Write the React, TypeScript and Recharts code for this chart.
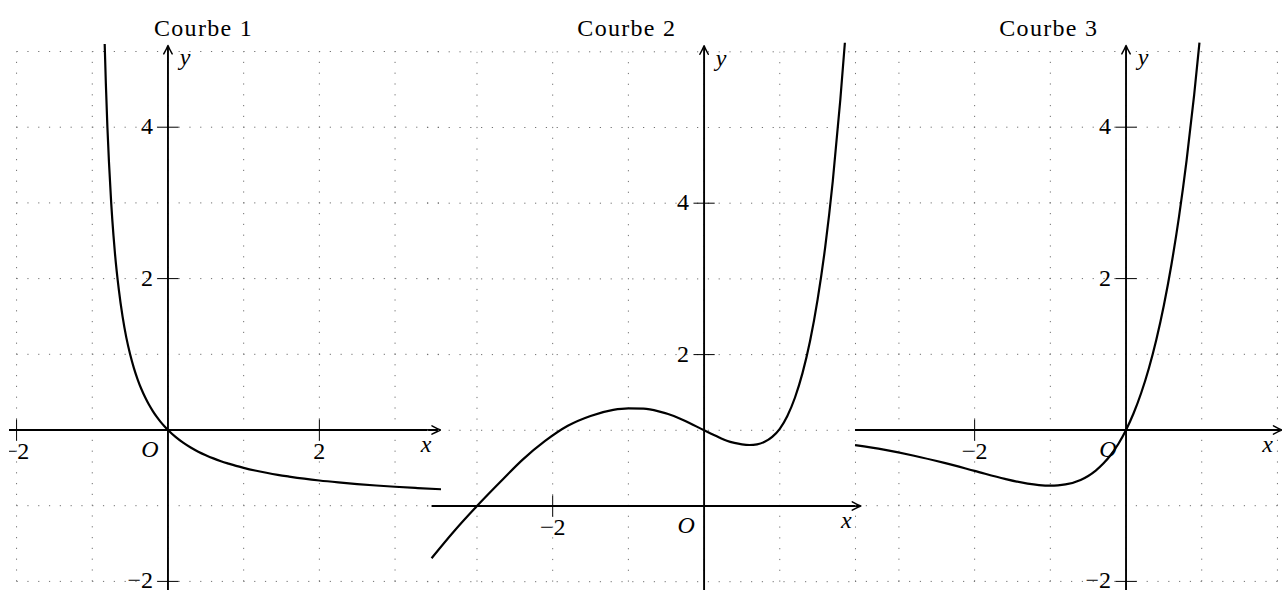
import React from "react";
import { LineChart, Line, XAxis, YAxis, ReferenceLine, ReferenceDot } from "recharts";

// Pixel size of one unit on both axes (orthonormal frame), and figure height
const UNIT = 75.7;
const HEIGHT = 590;
const FONT = '"Liberation Serif", "Times New Roman", serif';

// ---- Courbe 1 ----
const c1X = [-0.836, -0.82, -0.8, -0.78, -0.75, -0.72, -0.7, -0.65, -0.6, -0.55, -0.5, -0.45, -0.4, -0.35, -0.3, -0.25, -0.2, -0.15, -0.1, -0.05, 0, 0.1, 0.2, 0.3, 0.4, 0.5, 0.6, 0.7, 0.8, 0.9, 1.0, 1.15, 1.3, 1.45, 1.6, 1.8, 2.0, 2.25, 2.5, 2.75, 3.0, 3.3, 3.61];
const c1Y = [5.1, 4.56, 4.0, 3.55, 3.0, 2.57, 2.33, 1.86, 1.5, 1.22, 1.0, 0.818, 0.667, 0.538, 0.429, 0.333, 0.25, 0.176, 0.111, 0.053, 0, -0.091, -0.167, -0.231, -0.286, -0.333, -0.375, -0.412, -0.444, -0.474, -0.5, -0.535, -0.565, -0.592, -0.615, -0.643, -0.667, -0.692, -0.714, -0.733, -0.75, -0.767, -0.783];

// ---- Courbe 2 ----
const c2X = [-3.6, -3.3, -3.0, -2.7, -2.4, -2.1, -1.8, -1.5, -1.2, -1.0, -0.8, -0.6, -0.4, -0.2, 0, 0.1, 0.2, 0.3, 0.4, 0.5, 0.6, 0.7, 0.8, 0.9, 1.0, 1.1, 1.2, 1.3, 1.4, 1.5, 1.6, 1.7, 1.8, 1.86];
const c2Y = [-0.69, -0.33, 0.0, 0.31, 0.61, 0.86, 1.06, 1.19, 1.27, 1.29, 1.285, 1.25, 1.19, 1.1, 1.0, 0.952, 0.905, 0.862, 0.833, 0.814, 0.806, 0.814, 0.848, 0.913, 1.02, 1.19, 1.43, 1.755, 2.18, 2.73, 3.42, 4.29, 5.37, 6.12];

// ---- Courbe 3 ----
const c3X = [-3.58, -3.2, -2.8, -2.4, -2.0, -1.6, -1.3, -1.15, -1.0, -0.9, -0.8, -0.6, -0.5, -0.4, -0.3, -0.2, -0.1, 0, 0.1, 0.2, 0.3, 0.4, 0.5, 0.6, 0.7, 0.8, 0.9, 0.97];
const c3Y = [-0.2, -0.26, -0.34, -0.435, -0.54, -0.646, -0.709, -0.728, -0.736, -0.732, -0.719, -0.659, -0.607, -0.536, -0.444, -0.327, -0.181, 0, 0.221, 0.489, 0.81, 1.193, 1.649, 2.187, 2.819, 3.561, 4.427, 5.118];

// Graduations
const p1XTicks = [-2, 2];
const p1YTicks = [-2, 2, 4];
const p2XTicks = [-2];
const p2YTicks = [2, 4];
const p3XTicks = [-2];
const p3YTicks = [-2, 2, 4];

// Grid lines (unit step)
const p1GridX = [-2, -1, 0, 1, 2, 3];
const p1GridY = [-2, -1, 0, 1, 2, 3, 4, 5];
const p2GridX = [-3, -2, -1, 0, 1, 2];
const p2GridY = [-1, 0, 1, 2, 3, 4, 5, 6];
const p3GridX = [-3, -2, -1, 0, 1, 2];
const p3GridY = [-2, -1, 0, 1, 2, 3, 4, 5];

const titles = ["Courbe 1", "Courbe 2", "Courbe 3"];

const zip = (xs: number[], ys: number[]) => xs.map((x, i) => ({ x, y: ys[i] }));

type Panel = {
  title: string;
  titleX: number;
  originX: number; // pixel column of x = 0
  originY: number; // pixel row of y = 0
  xMin: number;
  xMax: number;
  axisX: [number, number];
  axisY: [number, number];
  gridX: number[];
  gridY: number[];
  gridXRange: [number, number];
  gridYRange: [number, number];
  xTicks: number[];
  yTicks: number[];
  data: { x: number; y: number }[];
};

const panels: Panel[] = [
  {
    title: titles[0], titleX: 0.47, originX: 168, originY: 430, xMin: -2.1, xMax: 3.61,
    axisX: [-2.1, 3.6], axisY: [-2.12, 5.08],
    gridX: p1GridX, gridY: p1GridY, gridXRange: [-2, 3.61], gridYRange: [-2, 5],
    xTicks: p1XTicks, yTicks: p1YTicks, data: zip(c1X, c1Y),
  },
  {
    title: titles[1], titleX: -1.02, originX: 704, originY: 506, xMin: -3.7, xMax: 2.1,
    axisX: [-3.6, 2.07], axisY: [-1.12, 6.08],
    gridX: p2GridX, gridY: p2GridY, gridXRange: [-3.66, 2], gridYRange: [-1, 6],
    xTicks: p2XTicks, yTicks: p2YTicks, data: zip(c2X, c2Y),
  },
  {
    title: titles[2], titleX: -1.02, originX: 1126, originY: 430, xMin: -3.62, xMax: 2.08,
    axisX: [-3.58, 2.06], axisY: [-2.12, 5.08],
    gridX: p3GridX, gridY: p3GridY, gridXRange: [-3.58, 2.06], gridYRange: [-2, 5],
    xTicks: p3XTicks, yTicks: p3YTicks, data: zip(c3X, c3Y),
  },
];

const fmt = (v: number) => (v < 0 ? "\u2212" + Math.abs(v) : String(v));

// Axis line ending with a TikZ-like "->" arrow head
const ArrowLine = (props: any) => {
  const { x1, y1, x2, y2 } = props;
  const deg = (Math.atan2(y2 - y1, x2 - x1) * 180) / Math.PI;
  const rad = (deg * Math.PI) / 180;
  return (
    <g>
      <line
        x1={x1}
        y1={y1}
        x2={x2 - Math.cos(rad) * 1.5}
        y2={y2 - Math.sin(rad) * 1.5}
        stroke="#000"
        strokeWidth={1.9}
      />
      <path
        d="M -8.5 -4.2 Q -3 -1.2 0 0 Q -3 1.2 -8.5 4.2"
        transform={`translate(${x2},${y2}) rotate(${deg})`}
        fill="none"
        stroke="#000"
        strokeWidth={1.5}
        strokeLinecap="round"
        strokeLinejoin="round"
      />
    </g>
  );
};

// Text anchored on a data point, shifted by a pixel offset
const textAt = (label: string, dx: number, dy: number, anchor: string, italic = false, spacing = 0) =>
  (p: any) => (
    <text
      x={p.cx + dx}
      y={p.cy + dy}
      textAnchor={anchor}
      fontFamily={FONT}
      fontSize={24}
      fontStyle={italic ? "italic" : "normal"}
      letterSpacing={spacing}
      fill="#000"
    >
      {label}
    </text>
  );

const TICK = 0.14;

function PanelChart({ p }: { p: Panel }) {
  const left = p.originX + p.xMin * UNIT;
  const width = (p.xMax - p.xMin) * UNIT;
  const yMax = p.originY / UNIT;
  const yMin = (p.originY - HEIGHT) / UNIT;
  const yTitle = yMax - 0.47;

  return (
    <div style={{ position: "absolute", left, top: 0 }}>
      <LineChart width={width} height={HEIGHT} margin={{ top: 0, right: 0, bottom: 0, left: 0 }}>
        <XAxis type="number" dataKey="x" domain={[p.xMin, p.xMax]} allowDataOverflow hide />
        <YAxis type="number" dataKey="y" domain={[yMin, yMax]} allowDataOverflow hide />

        {p.gridX.map((g) => (
          <ReferenceLine
            key={"gx" + g}
            ifOverflow="visible"
            segment={[{ x: g, y: p.gridYRange[0] }, { x: g, y: p.gridYRange[1] }]}
            stroke="#6f6f6f"
            strokeWidth={1}
            strokeDasharray="1.2 9.6"
          />
        ))}
        {p.gridY.map((g) => (
          <ReferenceLine
            key={"gy" + g}
            ifOverflow="visible"
            segment={[{ x: p.gridXRange[0], y: g }, { x: p.gridXRange[1], y: g }]}
            stroke="#6f6f6f"
            strokeWidth={1}
            strokeDasharray="1.2 9.6"
          />
        ))}

        <ReferenceLine ifOverflow="visible" segment={[{ x: p.axisX[0], y: 0 }, { x: p.axisX[1], y: 0 }]} shape={ArrowLine} />
        <ReferenceLine ifOverflow="visible" segment={[{ x: 0, y: p.axisY[0] }, { x: 0, y: p.axisY[1] }]} shape={ArrowLine} />

        {p.xTicks.map((t) => (
          <ReferenceLine key={"tx" + t} ifOverflow="visible" segment={[{ x: t, y: -TICK }, { x: t, y: TICK }]} stroke="#000" strokeWidth={1} />
        ))}
        {p.yTicks.map((t) => (
          <ReferenceLine key={"ty" + t} ifOverflow="visible" segment={[{ x: -TICK, y: t }, { x: TICK, y: t }]} stroke="#000" strokeWidth={1} />
        ))}

        <Line
          data={p.data}
          dataKey="y"
          type="monotone"
          stroke="#000"
          strokeWidth={2.2}
          dot={false}
          activeDot={false}
          isAnimationActive={false}
        />

        {p.xTicks.map((t) => (
          <ReferenceDot key={"lx" + t} ifOverflow="visible" x={t} y={0} r={0} shape={textAt(fmt(t), 0, 29, "middle")} />
        ))}
        {p.yTicks.map((t) => (
          <ReferenceDot key={"ly" + t} ifOverflow="visible" x={0} y={t} r={0} shape={textAt(fmt(t), -15, 7, "end")} />
        ))}
        <ReferenceDot ifOverflow="visible" x={0} y={0} r={0} shape={textAt("O", -18, 27, "middle", true)} />
        <ReferenceDot ifOverflow="visible" x={p.axisX[1]} y={0} r={0} shape={textAt("x", -14.5, 22.5, "middle", true)} />
        <ReferenceDot ifOverflow="visible" x={0} y={p.axisY[1]} r={0} shape={textAt("y", 17, 20, "middle", true)} />
        <ReferenceDot ifOverflow="visible" x={p.titleX} y={yTitle} r={0} shape={textAt(p.title, 0, 0, "middle", false, 1.3)} />
      </LineChart>
    </div>
  );
}

export default function App() {
  return (
    <div style={{ position: "absolute", left: 0, top: 0, width: 1282, height: HEIGHT, background: "#fff", overflow: "hidden" }}>
      {panels.map((p) => (
        <PanelChart key={p.title} p={p} />
      ))}
    </div>
  );
}
